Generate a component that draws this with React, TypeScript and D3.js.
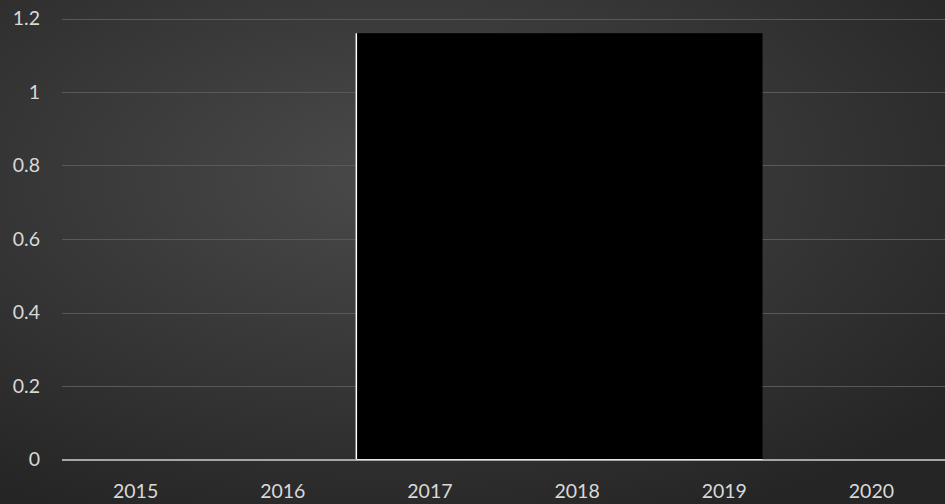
import React from "react";
import * as d3 from "d3";

const categories = ["2015", "2016", "2017", "2018", "2019", "2020"];
const yTicks = [0, 0.2, 0.4, 0.6, 0.8, 1, 1.2];
const yTickLabels = ["0", "0.2", "0.4", "0.6", "0.8", "1", "1.2"];
// block spans (in category units, 0 = first category centre)
const blockStart = [1.5];
const blockEnd = [4.26];
const blockValue = [1.16];

const W = 945, H = 504;
const M = { left: 62, right: 945, top: 18.5, bottom: 459.5 };

export default function App() {
  const x = d3.scaleBand<string>().domain(categories).range([M.left, M.right]).padding(0);
  const xl = d3.scaleLinear().domain([-0.5, categories.length - 0.5]).range([M.left, M.right]);
  const y = d3.scaleLinear().domain([0, 1.2]).range([M.bottom, M.top]);
  const font = "Lato, 'Open Sans', sans-serif";
  return (
    <svg width={W} height={H} style={{ position: "absolute", left: 0, top: 0 }}>
      <defs>
        <radialGradient id="bg" cx="42%" cy="35%" r="75%">
          <stop offset="0%" stopColor="#4a4a4a" />
          <stop offset="100%" stopColor="#252525" />
        </radialGradient>
      </defs>
      <rect width={W} height={H} fill="url(#bg)" />
      {yTicks.map((t, i) => t > 0 && (
        <line key={i} x1={M.left} x2={M.right} y1={Math.round(y(t)) + 0.5} y2={Math.round(y(t)) + 0.5}
          stroke="#595959" strokeWidth={1} />
      ))}
      {yTicks.map((t, i) => (
        <text key={"l" + i} x={40} y={y(t) + 6.8} textAnchor="end" fill="#d9d9d9" fontSize={19.5} fontFamily={font}>
          {yTickLabels[i]}
        </text>
      ))}
      {blockValue.map((v, i) => {
        const x0 = xl(blockStart[i]);
        const x1 = xl(blockEnd[i]);
        return (
          <g key={"b" + i}>
            <rect x={x0} y={y(v)} width={x1 - x0} height={y(0) - y(v)} fill="#000" />
            <line x1={x0} x2={x0} y1={y(v)} y2={y(0)} stroke="#fff" strokeWidth={1.5} />
          </g>
        );
      })}
      <line x1={M.left} x2={M.right} y1={y(0) + 0.5} y2={y(0) + 0.5} stroke="#a6a6a6" strokeWidth={2} />
      {blockValue.map((v, i) => (
        <line key={"w" + i} x1={xl(blockStart[i])} x2={xl(blockEnd[i])} y1={y(0)} y2={y(0)} stroke="#e8e8e8" strokeWidth={1} />
      ))}
      {categories.map((c) => (
        <text key={c} x={(x(c) ?? 0) + x.bandwidth() / 2} y={498} textAnchor="middle" fill="#d9d9d9" fontSize={19.5} fontFamily={font}>
          {c}
        </text>
      ))}
    </svg>
  );
}
